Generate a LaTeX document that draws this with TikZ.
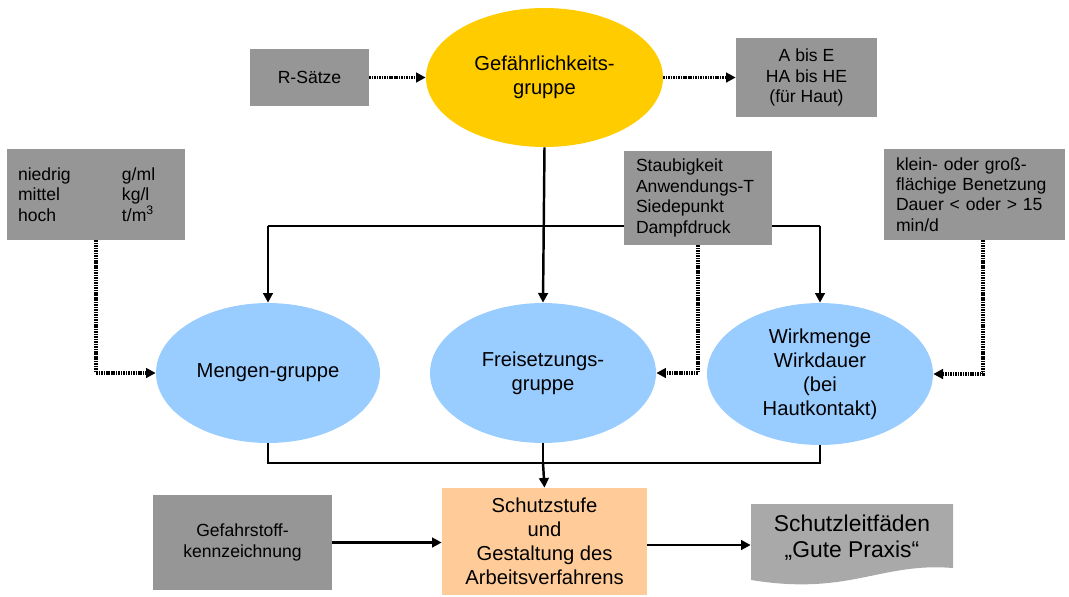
\documentclass[tikz,border=0pt]{standalone}
\usepackage{fontspec}
\setmainfont{Liberation Sans}
\usetikzlibrary{shapes.geometric,arrows.meta,backgrounds}
\definecolor{gbox}{HTML}{969696}
\definecolor{leitgray}{HTML}{A9A9A9}
\definecolor{ellblue}{HTML}{99CCFF}
\definecolor{ellyellow}{HTML}{FFCC00}
\definecolor{peach}{HTML}{FFCC99}
\begin{document}
\begin{tikzpicture}[x=0.02cm,y=-0.02cm,
  graybox/.style={rectangle,fill=gbox,inner sep=0pt,align=center,font=\fontsize{10}{11.6}\selectfont},
  ell/.style={ellipse,inner sep=0pt,align=center,font=\fontsize{11.5}{13.6}\selectfont},
  conn/.style={line width=1.4pt},
  arr/.style={conn,-{Triangle[length=5.5pt,width=5.5pt]}},
  dotarr/.style={line width=1.9pt,dash pattern=on 0.9pt off 0.5pt,-{Triangle[length=5.5pt,width=5.5pt]}},
]
\useasboundingbox (0,0) rectangle (1069,596);

% nodes
\node[graybox,minimum width=2.38cm,minimum height=1.14cm] (rs) at (309.5,77.5) {R-Sätze};
\node[ell,fill=ellyellow,minimum width=4.74cm,minimum height=2.78cm] (gef) at (544.5,77.5) {Gefährlichkeits-\\gruppe};
\node[graybox,minimum width=2.82cm,minimum height=1.58cm] (abis) at (806.5,77.5) {A bis E\\HA bis HE\\(für Haut)};

\node[graybox,minimum width=3.56cm,minimum height=1.82cm,text width=3.12cm,align=left] (lbox) at (96,194.5)
  {\makebox[2.08cm][l]{niedrig}g/ml\\\makebox[2.08cm][l]{mittel}kg/l\\\makebox[2.08cm][l]{hoch}t/m\textsuperscript{3}};
\node[graybox,minimum width=3.62cm,minimum height=1.82cm,text width=3.14cm,align=left] (kbox) at (974.5,194.5)
  {klein- oder groß-\\flächige Benetzung\\Dauer < oder > 15\\min/d};

\node[ell,fill=ellblue,minimum width=4.48cm,minimum height=2.8cm] (meng) at (268,373) {Mengen-gruppe};
\node[ell,fill=ellblue,minimum width=4.52cm,minimum height=2.8cm] (frei) at (543,373) {Freisetzungs-\\gruppe};
\node[ell,fill=ellblue,minimum width=4.52cm,minimum height=2.84cm] (wirk) at (820,374) {Wirkmenge\\Wirkdauer\\(bei\\Hautkontakt)};

\node[rectangle,fill=peach,inner sep=0pt,align=center,minimum width=4.1cm,minimum height=2.14cm,
  font=\fontsize{11.5}{13.7}\selectfont] (schutz) at (544.5,541.5) {Schutzstufe\\und\\Gestaltung des\\Arbeitsverfahrens};
\node[graybox,minimum width=3.58cm,minimum height=1.9cm] (gefahr) at (242.5,542.5) {Gefahrstoff-\\kennzeichnung};

\fill[leitgray] (751,504) -- (953,504) -- (953,568) .. controls (880,562) and (850,596) .. (751,580) -- cycle;
\node[rectangle,inner sep=0pt,align=center,minimum width=4.04cm,minimum height=1.32cm,
  font=\fontsize{13}{14.8}\selectfont] (leit) at (852,538) {Schutzleitfäden\\„Gute Praxis“};

% connectors behind the Staubigkeit box
\coordinate (hl) at (268,226);
\coordinate (hr) at (820,226);
\draw[conn] (hl) -- (hr);
\draw[arr] (hl) -- (meng.north);
\draw[arr] (hr) -- (wirk.north);
\draw[arr] (gef.south) -- (frei.north);

\node[graybox,minimum width=2.96cm,minimum height=1.88cm,text width=2.48cm,align=left] (sbox) at (698,198)
  {Staubigkeit\\Anwendungs-T\\Siedepunkt\\Dampfdruck};

% dotted connectors
\draw[dotarr] (rs.east) -- (gef.west);
\draw[dotarr] (gef.east) -- (abis.west);
\draw[dotarr] (lbox.south) |- (meng.west);
\draw[dotarr] (sbox.south) |- (frei.east);
\draw[dotarr] ([xshift=0.17cm]kbox.south) |- (wirk.east);

% bottom collector
\coordinate (bl) at (268,463);
\coordinate (bm) at (543,463);
\coordinate (br) at (820,463);
\draw[conn] (meng.south) -- (bl) -- (br) -- (wirk.south);
\draw[conn] (frei.south) -- (bm);
\draw[arr] (bm) -- (schutz.north);

\draw[arr] (gefahr.east) -- (gefahr.east -| schutz.west);
\draw[arr] ([yshift=-0.07cm]schutz.east) -- ([yshift=-0.07cm]schutz.east -| leit.west);
\end{tikzpicture}
\end{document}
